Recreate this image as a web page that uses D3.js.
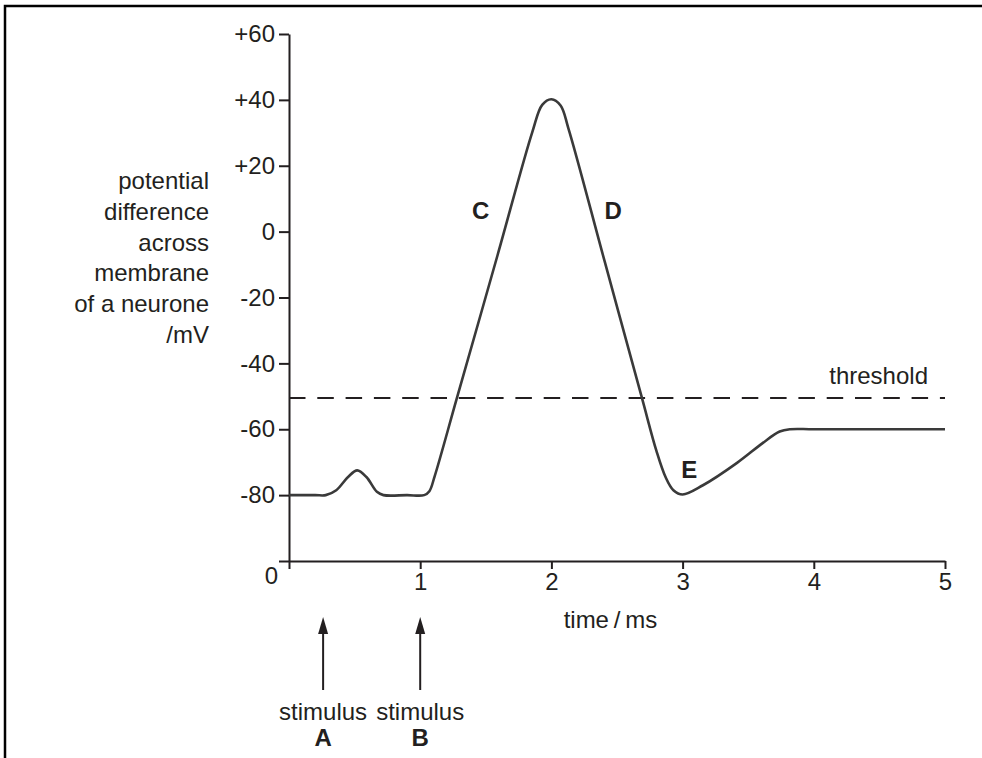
<!DOCTYPE html>
<html><head><meta charset="utf-8">
<script src="https://cdn.jsdelivr.net/npm/d3@7"></script>
<style>
body{margin:0;background:#fff;}
svg{display:block;}
text{font-family:"Liberation Sans",Arial,Helvetica,sans-serif;fill:#231f20;}
</style></head>
<body>
<svg id="chart" width="982" height="758"></svg>
<script>
// ---- data ----
const timeMs = [0, 0.2, 0.28, 0.36, 0.45, 0.52, 0.59, 0.67, 0.72, 0.9, 1.03, 1.07, 1.11, 1.28, 1.59, 1.855, 1.93, 2.0, 2.07, 2.13, 2.405, 2.69, 2.8, 2.87, 2.93, 3.0, 3.155, 3.415, 3.61, 3.74, 3.82, 4.0, 5.0];
const potentialMv = [-80, -80, -80, -78.5, -74.5, -72.5, -74.5, -79, -80, -80, -80, -78.8, -74.3, -50.5, -7.1, 30.3, 38.5, 40.2, 38.3, 31.3, -8.9, -50.5, -66.5, -74.5, -78.5, -79.8, -77, -70.2, -64.2, -60.7, -60, -60, -60];
const thresholdMv = -50.5;
const yTicks = [-80, -60, -40, -20, 0, 20, 40, 60];
const yTickLabels = ["-80", "-60", "-40", "-20", "0", "+20", "+40", "+60"];
const xTicks = [0, 1, 2, 3, 4, 5];
const xTickLabels = ["", "1", "2", "3", "4", "5"];
const yLabelLines = ["potential", "difference", "across", "membrane", "of a neurone", "/mV"];
const pointLabels = ["C", "D", "E"];
const pointLabelT = [1.46, 2.47, 3.05];
const pointLabelV = [6.5, 6.5, -72];
const stimulusT = [0.26, 1.0];
const stimulusNames = ["A", "B"];

// ---- layout ----
const svg = d3.select("#chart");
const x = d3.scaleLinear().domain([0, 5]).range([289, 945]);
const y = d3.scaleLinear().domain([-100, 60]).range([561, 34]);
const ink = "#231f20";
const fs = 24;
const ff = "Liberation Sans, Arial, sans-serif";

// frame
svg.append("path").attr("d", "M5,758 L5,6 L982,6").attr("fill", "none").attr("stroke", "#000").attr("stroke-width", 2.5);

// y axis
const yAxis = d3.axisLeft(y).tickValues([-100].concat(yTicks))
  .tickFormat(d => d === -100 ? "" : yTickLabels[yTicks.indexOf(d)])
  .tickSize(10).tickSizeOuter(0).tickPadding(4);
const gy = svg.append("g").attr("transform", `translate(${x(0)},0)`).call(yAxis);
gy.selectAll(".tick line").attr("stroke", ink).attr("stroke-width", 2);
gy.select(".domain").attr("stroke", ink).attr("stroke-width", 2);
gy.selectAll(".tick text").attr("font-size", fs).attr("fill", ink).style("font-family", ff);

// x axis
const xAxis = d3.axisBottom(x).tickValues(xTicks)
  .tickFormat((d, i) => xTickLabels[i]).tickSize(8).tickSizeOuter(0).tickPadding(4);
const gx = svg.append("g").attr("transform", `translate(0,${y(-100)})`).call(xAxis);
gx.selectAll(".tick line").attr("stroke", ink).attr("stroke-width", 2);
gx.select(".domain").attr("stroke", ink).attr("stroke-width", 2);
gx.selectAll(".tick text").attr("font-size", fs).attr("fill", ink).style("font-family", ff);

// origin "0"
svg.append("text").attr("x", x(0) - 11).attr("y", y(-100) + 23).attr("text-anchor", "end")
  .attr("font-size", fs).text("0");

// axis titles
svg.append("text").attr("x", x(2.45)).attr("y", y(-100) + 67).attr("text-anchor", "middle")
  .attr("font-size", fs).text("time\u2009/\u2009ms");
const yl = svg.append("text").attr("text-anchor", "end").attr("font-size", fs);
yLabelLines.forEach((s, i) => {
  yl.append("tspan").attr("x", 209).attr("y", 189 + i * 30.8).text(s);
});

// threshold
svg.append("line").attr("x1", x(0)).attr("x2", x(5)).attr("y1", y(thresholdMv)).attr("y2", y(thresholdMv))
  .attr("stroke", ink).attr("stroke-width", 2).attr("stroke-dasharray", "16.5,11.8");
svg.append("text").attr("x", x(5) - 17).attr("y", y(thresholdMv) - 14).attr("text-anchor", "end")
  .attr("font-size", fs).text("threshold");

// curve
const pts = timeMs.map((t, i) => [t, potentialMv[i]]);
const line = d3.line().x(d => x(d[0])).y(d => y(d[1])).curve(d3.curveCatmullRom.alpha(0.5));
svg.append("path").datum(pts).attr("d", line).attr("fill", "none")
  .attr("stroke", "#3a3a3a").attr("stroke-width", 2.6).attr("stroke-linejoin", "round");

// point labels
pointLabels.forEach((s, i) => {
  svg.append("text").attr("x", x(pointLabelT[i])).attr("y", y(pointLabelV[i]) + 9)
    .attr("text-anchor", "middle").attr("font-size", fs).attr("font-weight", "bold").text(s);
});

// stimulus arrows
stimulusT.forEach((t, i) => {
  const cx = x(t);
  svg.append("line").attr("x1", cx).attr("x2", cx).attr("y1", 628).attr("y2", 690)
    .attr("stroke", ink).attr("stroke-width", 2);
  svg.append("path").attr("d", `M${cx},617 L${cx - 5},634 L${cx + 5},634 Z`).attr("fill", ink);
  svg.append("text").attr("x", cx).attr("y", 720).attr("text-anchor", "middle")
    .attr("font-size", fs).text("stimulus");
  svg.append("text").attr("x", cx).attr("y", 746).attr("text-anchor", "middle")
    .attr("font-size", fs).attr("font-weight", "bold").text(stimulusNames[i]);
});
</script>
</body></html>
